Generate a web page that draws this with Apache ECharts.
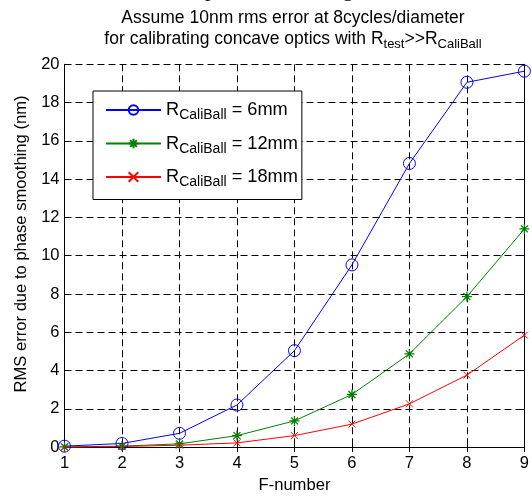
<!DOCTYPE html>
<html>
<head>
<meta charset="utf-8">
<script src="https://cdn.jsdelivr.net/npm/echarts@6/dist/echarts.min.js"></script>
<style>html,body{margin:0;padding:0;background:#fff;}#c{width:532px;height:499px;}</style>
</head>
<body>
<div id="c"></div>
<script>
const fNumbers = [1, 2, 3, 4, 5, 6, 7, 8, 9];
const rms6mm  = [0.05, 0.19, 0.72, 2.2, 5.04, 9.52, 14.82, 19.06, 19.64];
const rms12mm = [0.01, 0.05, 0.17, 0.6, 1.37, 2.75, 4.87, 7.86, 11.4];
const rms18mm = [0.0, 0.03, 0.1, 0.22, 0.6, 1.2, 2.26, 3.76, 5.85];
const seriesNames = ['6mm', '12mm', '18mm'];
const xTicks = [1, 9, 1];
const yTicks = [0, 20, 2];

const FONT = 'Liberation Sans';
const chart = echarts.init(document.getElementById('c'), null, {renderer: 'canvas'});

function pairs(v) { return fNumbers.map((x, i) => [x, v[i]]); }

const circlePath = 'path://M10,5A5,5,0,1,1,0,5A5,5,0,1,1,10,5Z';
const starPath = 'path://M5,0L5,10M0,5L10,5M1.5,1.5L8.5,8.5M8.5,1.5L1.5,8.5';
const xPath = 'path://M0,0L10,10M10,0L0,10';

const gridLine = {show: true, lineStyle: {color: '#000', width: 1, type: [7, 4]}};

function mk(name, data, color, symbol, size, bw) {
  return {
    name: name, type: 'line', data: pairs(data), symbol: symbol, symbolSize: size,
    lineStyle: {color: color, width: 1},
    itemStyle: {color: 'rgba(0,0,0,0)', borderColor: color, borderWidth: bw},
    emphasis: {disabled: true}, animation: false, clip: false, z: 3
  };
}

chart.setOption({
  animation: false,
  title: {
    text: 'Assume 10nm rms error at 8cycles/diameter\nfor calibrating concave optics with R{sub|test}>>R{sub|CaliBall}',
    left: 288, top: 3, textAlign: 'center',
    textStyle: {
      fontFamily: FONT, fontSize: 17.5, fontWeight: 'normal', color: '#000', lineHeight: 21,
      rich: {sub: {fontFamily: FONT, fontSize: 13, padding: [10, 0, 0, 0], color: '#000'}}
    }
  },
  graphic: [{
    type: 'text', left: -8, top: -21, silent: true,
    style: {text: 'y, the RMS error due to phase smoothing at the calibration of', font: '22px "Liberation Serif"', fill: '#000'}
  }, {
    type: 'text', x: 21, y: 244, rotation: Math.PI / 2, silent: true,
    style: {text: 'RMS error due to phase smoothing (nm)', font: '16.6px "Liberation Sans"', fill: '#000', align: 'center', verticalAlign: 'middle'}
  }],
  legend: {
    left: 93, top: 91, orient: 'vertical', itemWidth: 55, itemHeight: 12, itemGap: 12,
    padding: [10, 4, 10, 12], borderColor: '#000', borderWidth: 1, backgroundColor: '#fff',
    selectedMode: false,
    data: [
      {name: 'R = ' + seriesNames[0]},
      {name: 'R = ' + seriesNames[1]},
      {name: 'R = ' + seriesNames[2]}
    ],
    formatter: function (n) { return 'R{sub|CaliBall} = ' + n.replace('R = ', ''); },
    textStyle: {
      fontFamily: FONT, fontSize: 18.2, color: '#000',
      rich: {sub: {fontFamily: FONT, fontSize: 14, padding: [11, 0, 0, 0], color: '#000'}}
    }
  },
  grid: {left: 64.5, right: 3, top: 64.3, bottom: 45, containLabel: false},
  xAxis: [{
    type: 'value', min: xTicks[0], max: xTicks[1], interval: xTicks[2],
    name: 'F-number', nameLocation: 'middle', nameGap: 27,
    nameTextStyle: {fontFamily: FONT, fontSize: 16.6, color: '#000'},
    axisLine: {show: true, onZero: false, lineStyle: {color: '#000', width: 1}},
    axisTick: {show: true, inside: true, length: 5, lineStyle: {color: '#000'}},
    axisLabel: {fontFamily: FONT, fontSize: 16.5, color: '#000', margin: 8, showMaxLabel: true},
    splitLine: gridLine
  }, {
    type: 'value', position: 'top', min: xTicks[0], max: xTicks[1], interval: xTicks[2],
    axisLine: {show: true, lineStyle: {color: '#000', width: 1}},
    axisTick: {show: true, inside: true, length: 5, lineStyle: {color: '#000'}},
    axisLabel: {show: false}, splitLine: {show: false}
  }],
  yAxis: [{
    type: 'value', min: yTicks[0], max: yTicks[1], interval: yTicks[2],
    axisLine: {show: true, onZero: false, lineStyle: {color: '#000', width: 1}},
    axisTick: {show: true, inside: true, length: 5, lineStyle: {color: '#000'}},
    axisLabel: {fontFamily: FONT, fontSize: 16.5, color: '#000', margin: 5},
    splitLine: gridLine
  }, {
    type: 'value', position: 'right', min: yTicks[0], max: yTicks[1], interval: yTicks[2],
    axisLine: {show: true, lineStyle: {color: '#000', width: 1}},
    axisTick: {show: true, inside: true, length: 5, lineStyle: {color: '#000'}},
    axisLabel: {show: false}, splitLine: {show: false}
  }],
  series: [
    mk('R = ' + seriesNames[0], rms6mm, '#0000ff', circlePath, 12, 1),
    mk('R = ' + seriesNames[1], rms12mm, '#008000', starPath, 10, 1.3),
    mk('R = ' + seriesNames[2], rms18mm, '#ff0000', xPath, 7, 1)
  ]
});
</script>
</body>
</html>
